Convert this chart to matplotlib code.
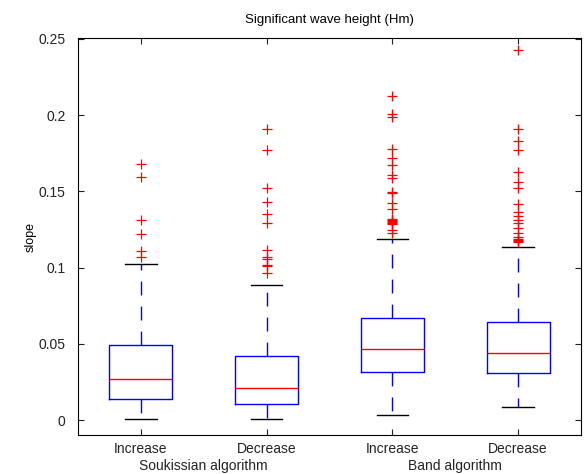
import numpy as np
import matplotlib
matplotlib.use("Agg")
import matplotlib.pyplot as plt

plt.rcParams['font.family'] = ['Liberation Sans', 'DejaVu Sans']

# slope statistics per method / direction
labels = ["Increase", "Decrease", "Increase", "Decrease"]
groups = ["Soukissian algorithm", "Band algorithm"]
q1 = [0.0140, 0.0109, 0.0318, 0.0309]
med = [0.0271, 0.0209, 0.0467, 0.0442]
q3 = [0.0495, 0.0424, 0.0673, 0.0644]
whislo = [0.0009, 0.0010, 0.0031, 0.0087]
whishi = [0.1024, 0.0887, 0.1189, 0.1136]

fliers_si = [0.1680, 0.1591, 0.1313, 0.1220, 0.1111, 0.1071]
fliers_sd = [0.1909, 0.1771, 0.1522, 0.1431, 0.1353, 0.1291, 0.1118,
             0.1069, 0.1056, 0.1020, 0.1011, 0.0967]
fliers_bi = [0.2127, 0.2009, 0.1989, 0.1776, 0.1720, 0.1675, 0.1604,
             0.1590, 0.1497, 0.1490, 0.1424, 0.1381, 0.1320, 0.1312,
             0.1305, 0.1298, 0.1290, 0.1285, 0.1246, 0.1226]
fliers_bd = [0.2424, 0.1909, 0.1832, 0.1769, 0.1624, 0.1558, 0.1524,
             0.1415, 0.1364, 0.1341, 0.1315, 0.1291, 0.1261, 0.1230,
             0.1199, 0.1190, 0.1180, 0.1172, 0.1165]
fliers = [fliers_si, fliers_sd, fliers_bi, fliers_bd]

stats = []
for i in range(4):
    stats.append(dict(q1=q1[i], med=med[i], q3=q3[i], whislo=whislo[i],
                      whishi=whishi[i], fliers=fliers[i]))

fig = plt.figure(figsize=(5.84, 4.74), dpi=100)
ax = fig.add_axes([78/584, 39/474, 503/584, 397/474])

ax.bxp(stats, positions=[1, 2, 3, 4], widths=0.5, capwidths=0.25,
       boxprops=dict(color='blue', linewidth=1.0),
       medianprops=dict(color='red', linewidth=1.0),
       whiskerprops=dict(color='blue', linewidth=1.0, linestyle=(0, (10, 8))),
       capprops=dict(color='black', linewidth=1.0),
       flierprops=dict(marker='+', markeredgecolor='red', markersize=7.5,
                       markeredgewidth=0.9, linestyle='none'))

ax.set_xlim(0.5, 4.5)
ax.set_ylim(-0.0097, 0.2505)
ax.set_yticks([0, 0.05, 0.1, 0.15, 0.2, 0.25])
ax.set_yticklabels(["0", "0.05", "0.1", "0.15", "0.2", "0.25"])
ax.set_xticks([1, 2, 3, 4])
ax.set_xticklabels(labels)
ax.tick_params(direction='in', length=4, top=True, right=True,
               labelsize=10, width=0.8, colors='#222222')
ax.tick_params(axis='y', pad=9)
ax.tick_params(axis='x', pad=5)
for s in ax.spines.values():
    s.set_linewidth(0.8)

# group names under the tick labels
for xg, name in zip([1.5, 3.5], groups):
    ax.text(xg, -0.079, name, transform=ax.get_xaxis_transform(),
            ha='center', va='center', fontsize=10, color='#222222')

ax.set_ylabel("slope", fontsize=9, labelpad=1)
ax.set_title("Significant wave height (Hm)", fontsize=9.5, pad=11)

fig.savefig("out.png", dpi=100)
